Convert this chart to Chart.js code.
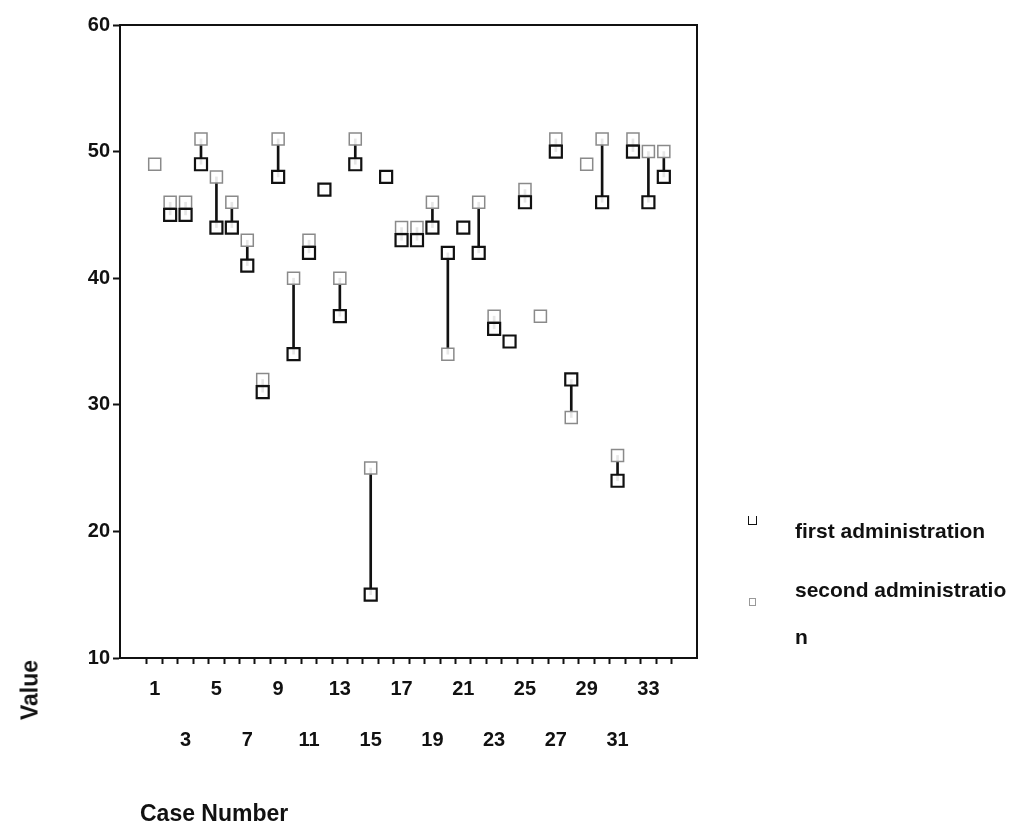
<!DOCTYPE html>
<html>
<head>
<meta charset="utf-8">
<script src="https://cdn.jsdelivr.net/npm/chart.js@4.4.0/dist/chart.umd.min.js"></script>
<style>
  body { margin: 0; background: #fff; font-family: "Liberation Sans", Arial, sans-serif; }
  #wrap { position: relative; width: 1027px; height: 823px; }
  canvas { position: absolute; left: 0; top: 0; }
  .lbl { position: absolute; font-weight: bold; color: #111; white-space: nowrap; }
  #yTitle { left: 30px; top: 690px; font-size: 23px; transform: translate(-50%, -50%) rotate(-90deg); }
  #xTitle { left: 140px; top: 800px; font-size: 23px; }
  #leg1 { left: 795px; top: 519px; font-size: 21px; }
  #leg2 { left: 795px; top: 566px; font-size: 21px; width: 220px; white-space: normal; word-break: break-all; line-height: 47px; }
  .mk { position: absolute; width: 7px; height: 8px; border: 1.5px solid #111; border-top: none; }
  #mk2 { border-color: #999; border-top: 1.5px solid #999; width: 5px; height: 6px; }
</style>
</head>
<body>
<div id="wrap">
  <canvas id="grafica" width="1027" height="823"></canvas>
  <div class="lbl" id="yTitle">Value</div>
  <div class="lbl" id="xTitle">Case Number</div>
  <div class="mk" id="mk1" style="left:748px; top:516px;"></div>
  <div class="lbl" id="leg1">first administration</div>
  <div class="mk" id="mk2" style="left:749px; top:598px;"></div>
  <div class="lbl" id="leg2">second administration</div>
</div>
<script>
// numero de caso
const casos = [1,2,3,4,5,6,7,8,9,10,11,12,13,14,15,16,17,18,19,20,21,22,23,24,25,26,27,28,29,30,31,32,33,34];
// valores (null = sin dato)
const primera = [null,45,45,49,44,44,41,31,48,34,42,47,37,49,15,48,43,43,44,42,44,42,36,35,46,null,50,32,null,46,24,50,46,48];
const segunda = [49,46,46,51,48,46,43,32,51,40,43,null,40,51,25,null,44,44,46,34,null,46,37,null,47,37,51,29,49,51,26,51,50,50];
const yTicks = [10,20,30,40,50,60];

const puntosPrimera = casos.map((c, i) => ({ x: c, y: primera[i] })).filter(p => p.y !== null);
const puntosSegunda = casos.map((c, i) => ({ x: c, y: segunda[i] })).filter(p => p.y !== null);
// lineas entre las dos administraciones
const lineas = casos.map((c, i) => ({ x: c, y: [primera[i], segunda[i]] }))
    .filter(p => p.y[0] !== null && p.y[1] !== null);

const fuente = { family: '"Liberation Sans", Arial, sans-serif', size: 20, weight: 'bold' };

// marco del area de la grafica
const marco = {
    id: 'marco',
    afterDraw(chart) {
        const a = chart.chartArea, ctx = chart.ctx;
        ctx.save();
        ctx.strokeStyle = '#111';
        ctx.lineWidth = 2;
        ctx.strokeRect(a.left, a.top, a.right - a.left, a.bottom - a.top);
        ctx.restore();
    }
};

const ctx = document.getElementById('grafica').getContext('2d');
new Chart(ctx, {
    type: 'scatter',
    data: {
        datasets: [
            {
                type: 'bar',
                label: 'lineas',
                data: lineas,
                backgroundColor: '#111',
                barThickness: 2,
                order: 3
            },
            {
                label: 'second administration',
                data: puntosSegunda,
                pointStyle: 'rect',
                pointRadius: 8.5,
                borderColor: '#8a8a8a',
                borderWidth: 1.5,
                backgroundColor: 'rgba(255,255,255,0.9)',
                order: 2
            },
            {
                label: 'first administration',
                data: puntosPrimera,
                pointStyle: 'rect',
                pointRadius: 8.5,
                borderColor: '#111',
                borderWidth: 2.2,
                backgroundColor: 'rgba(255,255,255,0.9)',
                order: 1
            }
        ]
    },
    options: {
        responsive: false,
        animation: false,
        layout: { padding: { top: 25, right: 330, left: 0, bottom: 0 } },
        plugins: {
            legend: { display: false },
            tooltip: { enabled: false }
        },
        scales: {
            x: {
                type: 'linear',
                min: -0.7,
                max: 35.6,
                afterBuildTicks: s => { s.ticks = casos.map(v => ({ value: v })); },
                afterFit: s => { s.height = 823 - 658; },
                grid: { drawOnChartArea: false, tickLength: 6, tickColor: '#111', tickWidth: 2 },
                border: { color: '#111', width: 2 },
                ticks: {
                    autoSkip: false,
                    maxRotation: 0,
                    padding: 0,
                    color: '#111',
                    font: Object.assign({}, fuente, { lineHeight: 2.55 }),
                    callback: v => {
                        if (v % 2 === 0) return '';
                        return ((v - 1) / 2) % 2 === 0 ? [String(v)] : ['', String(v)];
                    }
                }
            },
            y: {
                min: 10,
                max: 60,
                afterBuildTicks: s => { s.ticks = yTicks.map(v => ({ value: v })); },
                afterFit: s => { s.width = 120; },
                grid: { drawOnChartArea: false, tickLength: 7, tickColor: '#111', tickWidth: 2 },
                border: { color: '#111', width: 2 },
                ticks: { padding: 3, color: '#111', font: fuente }
            }
        }
    },
    plugins: [marco]
});
</script>
</body>
</html>
